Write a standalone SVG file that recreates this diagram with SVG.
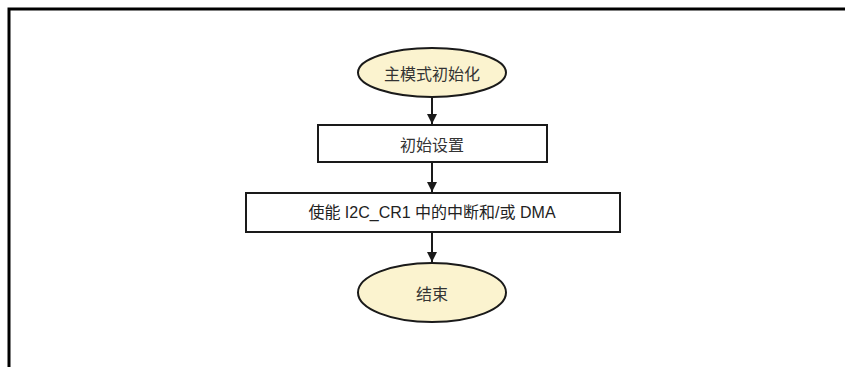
<svg xmlns="http://www.w3.org/2000/svg" width="845" height="367" viewBox="0 0 845 367">
<style>
.term{fill:#fbf3cf;stroke:#1a1a1a;stroke-width:2}
.proc{fill:#ffffff;stroke:#1a1a1a;stroke-width:2}
.cn{font-family:"Noto Sans CJK SC","Liberation Sans",sans-serif;font-size:16px;fill:#333;text-anchor:middle;dominant-baseline:central}
.ln{font-family:"Liberation Sans","Noto Sans CJK SC",sans-serif;font-size:16px;fill:#222;text-anchor:middle;dominant-baseline:central}
.edge{stroke:#1a1a1a;stroke-width:2;fill:none;marker-end:url(#ah)}
</style>
<defs>
<marker id="ah" markerWidth="12" markerHeight="12" refX="10" refY="5" orient="auto" markerUnits="userSpaceOnUse">
<path d="M0,0 L10,5 L0,10 Z" fill="#1a1a1a"/>
</marker>
</defs>
<rect width="845" height="367" fill="#ffffff"/>
<path d="M9,367 V9 H845" fill="none" stroke="#000" stroke-width="3"/>
<g id="connectors">
<line class="edge" x1="432" y1="97" x2="432" y2="124"/>
<line class="edge" x1="432" y1="162" x2="432" y2="192"/>
<line class="edge" x1="432" y1="232" x2="432" y2="262"/>
</g>
<g id="start">
<ellipse class="term" cx="432" cy="72.5" rx="74" ry="24.5"/>
<text class="cn" x="432" y="73">主模式初始化</text>
</g>
<g id="init">
<rect class="proc" x="318" y="125" width="229" height="37"/>
<text class="cn" x="432" y="143.5">初始设置</text>
</g>
<g id="enable">
<rect class="proc" x="246" y="193" width="374" height="39"/>
<text class="ln" x="432" y="212.5">使能 I2C_CR1 中的中断和/或 DMA</text>
</g>
<g id="end">
<ellipse class="term" cx="432" cy="292.5" rx="74" ry="29.5"/>
<text class="cn" x="432" y="293">结束</text>
</g>
</svg>
